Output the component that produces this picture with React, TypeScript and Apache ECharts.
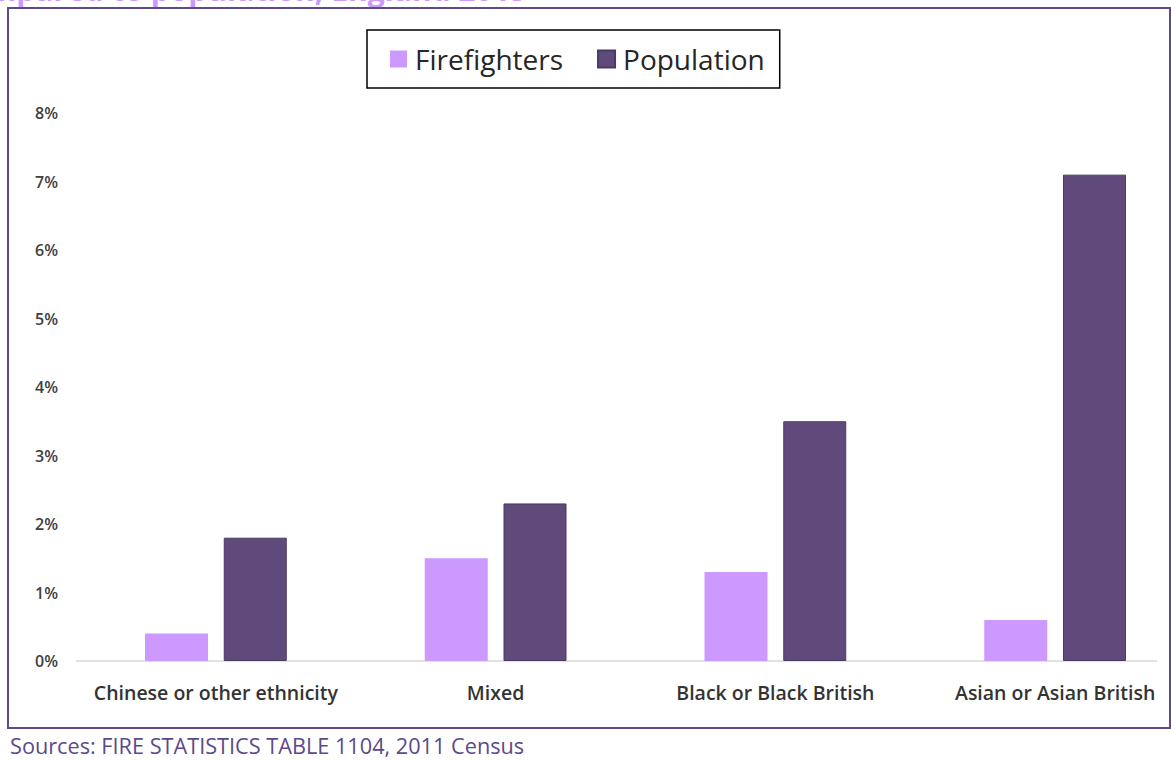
import React, { useEffect, useRef } from "react";
import * as echarts from "echarts";

const categories = [
  "Chinese or other ethnicity",
  "Mixed",
  "Black or Black British",
  "Asian or Asian British",
];
const firefighters = [0.4, 1.5, 1.3, 0.6];
const population = [1.8, 2.3, 3.5, 7.1];
const seriesNames = ["Firefighters", "Population"];
const titleText = "Ethnicity of firefighters compared to population, England 2015";
const sourceText = "Sources: FIRE STATISTICS TABLE 1104, 2011 Census";

const FONT = "'Open Sans', 'Noto Sans', sans-serif";

export default function App() {
  const ref = useRef<HTMLDivElement>(null);
  useEffect(() => {
    document.body.style.margin = "0";
    const chart = echarts.init(ref.current!, null, { renderer: "svg" });
    chart.setOption({
      animation: false,
      backgroundColor: "#ffffff",
      textStyle: { fontFamily: FONT },
      legend: {
        data: seriesNames,
        left: 367,
        top: 30,
        orient: "horizontal",
        icon: "rect",
        itemWidth: 17,
        itemHeight: 17,
        itemGap: 34,
        padding: [15, 15, 15, 23],
        borderColor: "#000000",
        borderWidth: 1.5,
        textStyle: { fontSize: 28, color: "#262626", fontFamily: FONT, padding: [0, 0, 0, 3] },
      },
      grid: { left: 76, right: 5, top: 113, bottom: 99, containLabel: false },
      xAxis: {
        type: "category",
        data: categories,
        boundaryGap: true,
        axisLine: { show: false },
        axisTick: { show: false },
        axisLabel: {
          margin: 21,
          fontSize: 19.5,
          fontWeight: 600,
          color: "#333333",
          fontFamily: FONT,
          interval: 0,
        },
      },
      yAxis: {
        type: "value",
        min: 0,
        max: 8,
        interval: 1,
        axisLine: { show: false },
        axisTick: { show: false },
        splitLine: { show: false },
        axisLabel: {
          formatter: "{value}%",
          margin: 18,
          fontSize: 16,
          fontWeight: 600,
          color: "#404040",
          fontFamily: FONT,
        },
      },
      series: [
        {
          name: seriesNames[0],
          type: "bar",
          data: firefighters,
          barWidth: 63,
          barGap: "25%",
          itemStyle: { color: "#cc99ff" },
        },
        {
          name: seriesNames[1],
          type: "bar",
          data: population,
          barWidth: 63,
          barGap: "25%",
          itemStyle: { color: "#604a7b", borderColor: "#4a3963", borderWidth: 1 },
        },
      ],
      graphic: [
        {
          type: "text",
          z: -20,
          x: 527,
          y: -11,
          style: {
            text: titleText,
            fill: "#cc99ff",
            font: `bold 30px ${FONT}`,
            textAlign: "right",
            textVerticalAlign: "middle",
          },
        },
        {
          type: "rect",
          z: -10,
          shape: { x: 8, y: 8, width: 1162, height: 720 },
          style: { fill: "#ffffff", stroke: "none" },
        },
        {
          type: "line",
          z: 1,
          shape: { x1: 76, y1: 661, x2: 1157, y2: 661 },
          style: { stroke: "#d9d9d9", lineWidth: 1.5 },
        },
        {
          type: "rect",
          z: 100,
          shape: { x: 8, y: 8, width: 1162, height: 720 },
          style: { fill: "none", stroke: "#5f4b8b", lineWidth: 2 },
        },
        {
          type: "text",
          z: 100,
          x: 10,
          y: 745,
          style: {
            text: sourceText,
            fill: "#5b4a8a",
            font: `21.7px ${FONT}`,
            textVerticalAlign: "middle",
          },
        },
      ],
    });
    return () => chart.dispose();
  }, []);
  return (
    <div style={{ width: 1171, height: 760, overflow: "hidden", position: "relative" }}>
      <div ref={ref} style={{ width: 1200, height: 760 }} />
    </div>
  );
}
